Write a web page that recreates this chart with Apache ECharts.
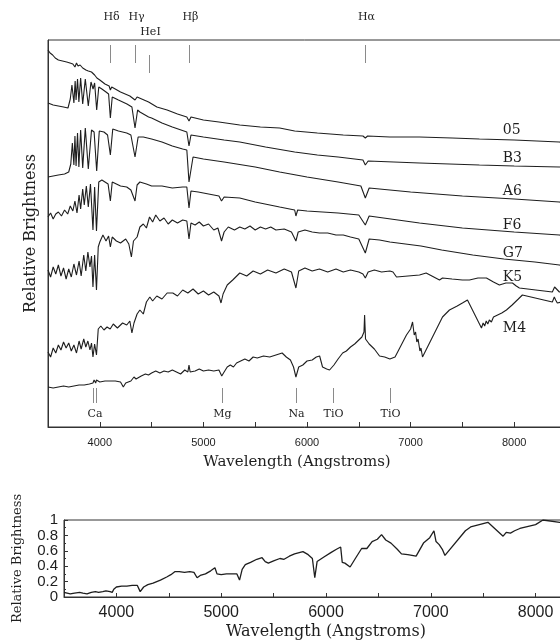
<!DOCTYPE html>
<html>
<head>
<meta charset="utf-8">
<script src="https://cdn.jsdelivr.net/npm/echarts@6/dist/echarts.min.js"></script>
<style>
  html, body { margin: 0; padding: 0; background: #fff; overflow: hidden; }
  #chart { width: 560px; height: 641px; }
</style>
</head>
<body>
<div id="chart"></div>
<script>
// spectra, [wavelength (A), relative brightness (arbitrary, stacked)]
var o5 = [[3500,377],[3520,374],[3545,372],[3570,369],[3600,367],[3640,366],[3680,365],[3712,364],[3740,363],[3760,360],[3775,364],[3790,361],[3810,362],[3835,359],[3866,357],[3889,356],[3920,355],[3950,352],[3972,349],[4000,347],[4050,343],[4090,341],[4102,337],[4115,340],[4200,335],[4290,331],[4340,327],[4360,330],[4471,325],[4551,320],[4650,317],[4750,313],[4840,310],[4861,306],[4880,310],[5000,307],[5150,305],[5351,302],[5550,300],[5736,299],[5881,296],[6100,294],[6350,292],[6540,291],[6563,289],[6585,291],[6800,290],[7086,290],[7400,289],[7664,288],[8000,287],[8436,285],[8500,284]];
var b3 = [[3500,324],[3550,322],[3600,321],[3650,320],[3693,319],[3715,328],[3731,342],[3750,324],[3762,346],[3771,327],[3785,348],[3798,325],[3815,349],[3835,323],[3860,348],[3889,321],[3915,345],[3935,338],[3950,344],[3970,317],[3990,340],[4020,338],[4060,335],[4085,333],[4102,309],[4120,330],[4180,327],[4262,323],[4310,320],[4340,299],[4365,317],[4387,315],[4471,310],[4500,309],[4600,304],[4700,300],[4840,295],[4861,281],[4880,292],[5000,290],[5200,287],[5351,285],[5600,280],[5881,275],[6100,272],[6300,270],[6540,267],[6563,262],[6590,266],[7086,264],[7664,262],[8000,261],[8436,260],[8500,260]];
var a6 = [[3500,250],[3550,251],[3600,252],[3660,253],[3700,255],[3720,263],[3735,284],[3750,262],[3760,291],[3771,261],[3785,294],[3798,260],[3815,297],[3835,259],[3860,299],[3889,258],[3920,297],[3945,295],[3970,256],[3995,296],[4040,295],[4075,292],[4102,272],[4125,298],[4180,296],[4260,294],[4300,292],[4340,270],[4370,290],[4420,290],[4500,288],[4600,285],[4700,281],[4800,278],[4840,277],[4861,245],[4900,270],[5000,268],[5200,265],[5500,260],[5736,255],[6000,250],[6300,245],[6520,241],[6563,229],[6600,239],[7000,235],[7500,231],[8000,228],[8436,225],[8500,224]];
var f6 = [[3500,210],[3525,214],[3550,208],[3575,213],[3600,215],[3630,211],[3660,217],[3690,213],[3715,221],[3740,216],[3760,226],[3780,214],[3800,232],[3815,218],[3835,238],[3850,222],[3870,241],[3889,220],[3910,243],[3934,197],[3950,240],[3968,196],[3990,245],[4020,247],[4050,245],[4080,243],[4102,226],[4120,245],[4160,243],[4200,241],[4260,240],[4300,237],[4340,226],[4360,242],[4387,245],[4450,243],[4500,241],[4600,241],[4700,239],[4800,240],[4840,240],[4861,219],[4880,236],[4950,235],[5050,233],[5150,231],[5175,226],[5200,230],[5351,229],[5500,225],[5736,220],[5881,217],[5893,211],[5910,217],[6000,216],[6300,214],[6500,212],[6563,202],[6600,211],[7086,204],[7500,199],[8000,195],[8436,192],[8500,191]];
var g7 = [[3500,157],[3525,150],[3550,160],[3575,153],[3600,162],[3625,151],[3650,159],[3675,148],[3700,158],[3725,150],[3750,163],[3775,152],[3800,166],[3820,151],[3845,172],[3865,156],[3885,175],[3905,160],[3920,171],[3934,140],[3950,172],[3968,137],[3985,180],[4000,185],[4030,192],[4060,186],[4085,191],[4102,180],[4120,190],[4160,186],[4200,184],[4250,188],[4280,183],[4305,170],[4325,186],[4360,190],[4387,200],[4420,203],[4450,199],[4480,210],[4510,205],[4540,212],[4580,206],[4620,209],[4660,203],[4700,207],[4750,204],[4800,207],[4840,206],[4861,188],[4880,204],[4920,202],[4960,205],[5000,201],[5050,203],[5100,197],[5140,199],[5175,186],[5200,195],[5240,200],[5300,197],[5351,200],[5400,198],[5450,201],[5500,197],[5550,200],[5600,198],[5650,200],[5700,197],[5780,198],[5850,195],[5893,186],[5915,195],[5980,197],[6050,195],[6120,194],[6200,194],[6280,192],[6350,192],[6420,190],[6500,188],[6563,174],[6600,188],[6700,187],[6800,185],[6950,183],[7100,181],[7300,177],[7600,172],[7900,168],[8200,165],[8436,162],[8500,161]];
var k5 = [[3500,75],[3525,70],[3550,79],[3575,74],[3600,82],[3625,77],[3650,85],[3675,79],[3700,84],[3725,76],[3750,82],[3775,74],[3800,86],[3820,78],[3845,88],[3865,80],[3885,86],[3905,77],[3920,84],[3934,70],[3950,83],[3968,72],[3985,98],[4010,101],[4040,97],[4070,100],[4100,98],[4130,103],[4170,99],[4220,104],[4260,102],[4290,106],[4310,94],[4330,104],[4360,113],[4387,117],[4420,113],[4450,125],[4483,130],[4510,126],[4550,131],[4600,128],[4650,134],[4705,134],[4750,131],[4800,137],[4850,134],[4900,138],[4950,133],[5000,136],[5050,132],[5100,135],[5150,131],[5170,124],[5190,133],[5230,142],[5283,147],[5351,154],[5418,151],[5480,156],[5550,153],[5620,157],[5700,154],[5780,158],[5850,155],[5893,139],[5920,156],[5980,159],[6050,156],[6120,158],[6200,155],[6280,158],[6350,155],[6420,157],[6500,155],[6540,153],[6563,149],[6590,155],[6650,157],[6720,155],[6800,156],[6830,155],[6864,150],[7086,152],[7150,154],[7279,147],[7308,149],[7400,148],[7500,147],[7568,147],[7650,149],[7732,149],[7800,145],[7857,142],[7920,144],[7983,144],[8020,141],[8050,139],[8368,135],[8390,140],[8407,139],[8436,135],[8500,135]];
var m4 = [[3500,40],[3550,39],[3600,40],[3650,41],[3700,40],[3750,41],[3800,42],[3850,42],[3900,43],[3934,44],[3945,47],[3960,44],[3968,47],[4000,45],[4050,46],[4100,46],[4150,46],[4200,45],[4227,40],[4250,44],[4300,46],[4330,50],[4350,48],[4400,51],[4440,53],[4470,52],[4500,54],[4540,56],[4580,54],[4620,56],[4660,55],[4700,57],[4740,55],[4780,53],[4820,57],[4850,55],[4861,62],[4872,55],[4920,56],[4960,58],[5000,56],[5050,57],[5100,56],[5150,57],[5177,51],[5200,55],[5230,60],[5260,62],[5290,60],[5320,64],[5360,66],[5400,68],[5440,66],[5480,70],[5520,69],[5580,71],[5640,70],[5700,72],[5760,74],[5800,70],[5840,67],[5870,60],[5893,50],[5920,60],[5960,62],[6000,66],[6050,67],[6090,70],[6122,71],[6150,60],[6190,58],[6218,57],[6260,62],[6300,68],[6344,74],[6380,76],[6420,80],[6460,83],[6500,87],[6530,90],[6550,95],[6556,112],[6565,88],[6600,83],[6650,78],[6700,71],[6750,70],[6800,68],[6850,70],[6900,80],[6960,92],[7000,98],[7019,105],[7035,92],[7048,95],[7060,85],[7072,88],[7090,76],[7100,79],[7115,70],[7308,110],[7375,117],[7450,121],[7500,124],[7549,127],[7684,99],[7700,104],[7715,101],[7730,106],[7745,103],[7760,107],[7780,105],[7800,110],[7840,112],[7880,114],[7925,117],[7980,122],[8040,128],[8079,132],[8368,125],[8387,130],[8400,127],[8416,124],[8500,126]];

// lower panel: the M star, normalised 0..1
var mstar = [[3500,0.06],[3530,0.05],[3560,0.04],[3600,0.05],[3650,0.06],[3680,0.05],[3720,0.04],[3760,0.06],[3800,0.07],[3830,0.06],[3870,0.07],[3900,0.08],[3940,0.07],[3960,0.06],[3975,0.1],[4000,0.13],[4050,0.14],[4100,0.14],[4150,0.15],[4200,0.15],[4227,0.07],[4260,0.13],[4300,0.16],[4350,0.18],[4420,0.22],[4480,0.26],[4520,0.29],[4560,0.33],[4600,0.33],[4650,0.32],[4700,0.33],[4740,0.32],[4770,0.25],[4800,0.28],[4850,0.3],[4900,0.34],[4940,0.38],[4960,0.3],[5000,0.29],[5050,0.3],[5100,0.3],[5150,0.3],[5175,0.22],[5200,0.36],[5230,0.42],[5280,0.45],[5340,0.49],[5390,0.51],[5420,0.46],[5450,0.44],[5500,0.47],[5560,0.5],[5600,0.49],[5650,0.53],[5700,0.56],[5780,0.59],[5830,0.55],[5870,0.5],[5893,0.25],[5915,0.46],[5980,0.52],[6050,0.58],[6100,0.62],[6140,0.65],[6155,0.45],[6180,0.44],[6230,0.39],[6280,0.5],[6340,0.63],[6390,0.63],[6440,0.72],[6490,0.75],[6530,0.81],[6570,0.74],[6620,0.7],[6680,0.62],[6720,0.56],[6780,0.55],[6860,0.53],[6930,0.7],[6990,0.77],[7030,0.86],[7050,0.72],[7080,0.68],[7110,0.62],[7135,0.54],[7330,0.86],[7380,0.91],[7545,0.97],[7690,0.79],[7720,0.84],[7760,0.83],[7800,0.86],[7850,0.89],[8000,0.94],[8070,1.0],[8230,0.97],[8500,0.96]];

var typeNames = ['05', 'B3', 'A6', 'F6', 'G7', 'K5', 'M4'];
var balmerNames = ['H\u03b4', 'H\u03b3', 'HeI', 'H\u03b2', 'H\u03b1'];
var balmerWaves = [4102, 4340, 4471, 4861, 6563];
var metalNames = ['Ca', 'Mg', 'Na', 'TiO', 'TiO'];
var metalWaves = [[3934, 3968], [5175], [5893], [6250], [6800]];
var xTicks = [4000, 5000, 6000, 7000, 8000];

var chart = echarts.init(document.getElementById('chart'));
var ink = '#1e1e1e';
var serif = 'DejaVu Serif';
var sans = 'Liberation Sans';

function spec(name, data, grid) {
    return {
        name: name, type: 'line', data: data,
        xAxisIndex: grid, yAxisIndex: grid,
        showSymbol: false, symbol: 'none', silent: true,
        lineStyle: { color: ink, width: grid ? 1.3 : 1.1 }
    };
}

var option = {
    animation: false,
    backgroundColor: '#fff',
    grid: [
        { left: 48, top: 40, width: 518, height: 387, outerBoundsMode: 'none', containLabel: false,
          show: true, borderColor: '#333', borderWidth: 1 },
        { left: 64, top: 520, width: 524, height: 77, outerBoundsMode: 'none', containLabel: false,
          show: true, borderColor: '#333', borderWidth: 1 }
    ],
    xAxis: [
        {
            gridIndex: 0, type: 'value', min: 3500, max: 8500, interval: 500,
            axisLine: { lineStyle: { color: '#333' } },
            axisTick: { inside: true, length: 5, lineStyle: { color: '#333' } },
            axisLabel: {
                margin: 10, color: ink, fontFamily: sans, fontSize: 11,
                formatter: function (v) { return xTicks.indexOf(v) >= 0 ? String(v) : ''; }
            },
            splitLine: { show: false },
            name: 'Wavelength (Angstroms)', nameLocation: 'middle', nameGap: 28,
            nameTextStyle: { fontFamily: serif, fontSize: 15, color: ink, padding: [0, 20, 0, 0] }
        },
        {
            gridIndex: 1, type: 'value', min: 3500, max: 8500, interval: 500,
            axisLine: { lineStyle: { color: '#333' } },
            axisTick: { inside: true, length: 4, lineStyle: { color: '#333' } },
            axisLabel: {
                margin: 8, color: ink, fontFamily: sans, fontSize: 16,
                formatter: function (v) { return xTicks.indexOf(v) >= 0 ? String(v) : ''; }
            },
            splitLine: { show: false },
            name: 'Wavelength (Angstroms)', nameLocation: 'middle', nameGap: 27,
            nameTextStyle: { fontFamily: serif, fontSize: 16, color: ink }
        }
    ],
    yAxis: [
        {
            gridIndex: 0, type: 'value', min: 0, max: 387,
            axisLine: { show: true, lineStyle: { color: '#333' } },
            axisTick: { show: false }, axisLabel: { show: false },
            splitLine: { show: false },
            name: 'Relative Brightness', nameLocation: 'middle', nameGap: 9,
            nameTextStyle: { fontFamily: serif, fontSize: 16, color: ink }
        },
        {
            gridIndex: 1, type: 'value', min: 0, max: 1, interval: 0.2,
            axisLine: { show: true, lineStyle: { color: '#333' } },
            axisTick: { inside: true, length: 4, lineStyle: { color: '#333' } },
            minorTick: { show: true, splitNumber: 2, length: 2, lineStyle: { color: '#333' } },
            axisLabel: { margin: 6, color: ink, fontFamily: sans, fontSize: 15, lineHeight: 13,
                showMinLabel: true, showMaxLabel: true, hideOverlap: false },
            splitLine: { show: false },
            name: 'Relative Brightness', nameLocation: 'middle', nameGap: 40,
            nameTextStyle: { fontFamily: serif, fontSize: 13, color: ink }
        }
    ],
    series: [
        spec('05', o5, 0), spec('B3', b3, 0), spec('A6', a6, 0), spec('F6', f6, 0),
        spec('G7', g7, 0), spec('K5', k5, 0), spec('M4', m4, 0),
        spec('M', mstar, 1)
    ]
};
chart.setOption(option);

// annotations: line ids above and below, spectral types at the right
var gfx = [];
var gray = '#8a8a8a';
function xAt(w) { return chart.convertToPixel({ xAxisIndex: 0 }, w); }

balmerWaves.forEach(function (w, i) {
    var x = Math.round(xAt(w)) + 0.5;
    var low = balmerNames[i] === 'HeI';
    gfx.push({ type: 'line', shape: { x1: x, y1: low ? 55 : 45, x2: x, y2: low ? 73 : 63 },
        style: { stroke: gray, lineWidth: 1 }, silent: true });
    gfx.push({ type: 'text', x: x + 1, y: low ? 32 : 17,
        style: { text: balmerNames[i], font: '11px "DejaVu Serif"', fill: ink,
            align: 'center', verticalAlign: 'middle' }, silent: true });
});
metalWaves.forEach(function (ws, i) {
    var xs = ws.map(function (w) { return Math.round(xAt(w)) + 0.5; });
    xs.forEach(function (x) {
        gfx.push({ type: 'line', shape: { x1: x, y1: 388, x2: x, y2: 403 },
            style: { stroke: gray, lineWidth: 1 }, silent: true });
    });
    var mid = (xs[0] + xs[xs.length - 1]) / 2;
    gfx.push({ type: 'text', x: mid, y: 414,
        style: { text: metalNames[i], font: '11px "DejaVu Serif"', fill: ink,
            align: 'center', verticalAlign: 'middle' }, silent: true });
});
var typeY = [130, 158, 191, 225, 253, 277, 328];
typeNames.forEach(function (t, i) {
    gfx.push({ type: 'text', x: xAt(7890), y: typeY[i],
        style: { text: t, font: '14px "DejaVu Serif"', fill: ink,
            align: 'left', verticalAlign: 'middle' }, silent: true });
});
chart.setOption({ graphic: gfx });
</script>
</body>
</html>
